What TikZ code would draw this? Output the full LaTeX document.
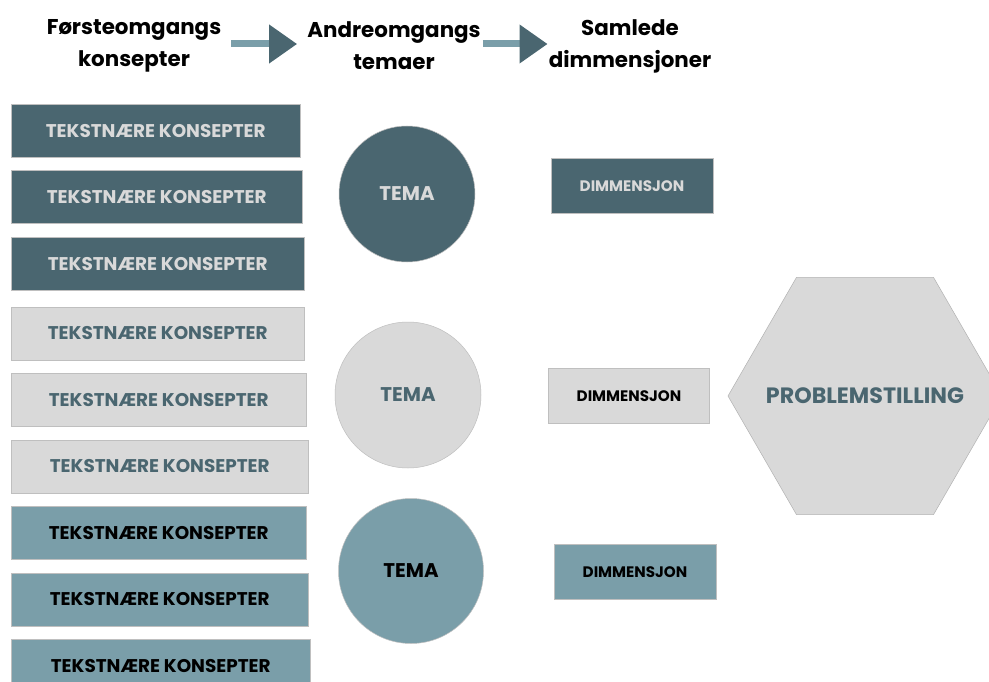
\documentclass[tikz,border=0pt]{standalone}
\usepackage{fontspec}
\setmainfont{Poppins}
\usepackage{tikz}
\usetikzlibrary{arrows.meta,positioning,shapes.geometric}
\usepackage{xcolor}
\definecolor{mork}{HTML}{4A6670}
\definecolor{middels}{HTML}{7A9EA9}
\definecolor{lys}{HTML}{D9D9D9}

\begin{document}
\begin{tikzpicture}[x=1pt, y=-1pt, node distance=13pt,
  kon/.style={draw=gray!50, line width=0.5pt, minimum height=53pt, inner sep=0pt,
    anchor=north west, font=\bfseries\fontsize{18.4}{20}\selectfont},
  morkfarge/.style={fill=mork, text=lys},
  lysfarge/.style={fill=lys, text=mork},
  midfarge/.style={fill=middels, text=black},
  tema/.style={circle, draw=gray!50, line width=0.5pt, inner sep=0pt,
    font=\bfseries\fontsize{19.8}{22}\selectfont},
  dim/.style={draw=gray!50, line width=0.5pt, minimum width=162pt, minimum height=55pt,
    inner sep=0pt, font=\bfseries\fontsize{15.2}{17}\selectfont},
  head/.style={align=center, text=black, inner sep=0pt, font=\bfseries\fontsize{21.4}{32}\selectfont},
  pil/.style={middels, line width=7pt, -{Triangle[color=mork, length=28pt, width=37pt]}}]
\useasboundingbox[fill=white] (0,0) rectangle (989,682);

% overskrifter
\node[head] (h1) at (134,46) {Førsteomgangs\\konsepter};
\node[head] (h2) at (394,46) {Andreomgangs\\temaer};
\node[head] (h3) at (630,46) {Samlede\\dimmensjoner};
\draw[pil, shorten <=10pt, shorten >=10pt] (h1.east |- 0,44) -- (h2.west |- 0,44);
\draw[pil, shorten <=2pt, shorten >=1pt] (h2.east |- 0,44) -- (h3.west |- 0,44);

% tekstnære konsepter
\node[kon, morkfarge, minimum width=289pt] (k1) at (11,104) {TEKSTNÆRE KONSEPTER};
\node[kon, morkfarge, minimum width=291pt, below=of k1.south west, anchor=north west] (k2) {TEKSTNÆRE KONSEPTER};
\node[kon, morkfarge, minimum width=293pt, below=of k2.south west, anchor=north west] (k3) {TEKSTNÆRE KONSEPTER};
\node[kon, lysfarge, minimum width=293pt, below=16pt of k3.south west, anchor=north west] (k4) {TEKSTNÆRE KONSEPTER};
\node[kon, lysfarge, minimum width=295pt, below=of k4.south west, anchor=north west] (k5) {TEKSTNÆRE KONSEPTER};
\node[kon, lysfarge, minimum width=297pt, below=of k5.south west, anchor=north west] (k6) {TEKSTNÆRE KONSEPTER};
\node[kon, midfarge, minimum width=295pt, below=of k6.south west, anchor=north west] (k7) {TEKSTNÆRE KONSEPTER};
\node[kon, midfarge, minimum width=297pt, below=of k7.south west, anchor=north west] (k8) {TEKSTNÆRE KONSEPTER};
\node[kon, midfarge, minimum width=299pt, below=of k8.south west, anchor=north west] (k9) {TEKSTNÆRE KONSEPTER};

% temaer
\node[tema, morkfarge, minimum size=136pt] (t1) at (407,194) {TEMA};
\node[tema, lysfarge, minimum size=146pt] (t2) at (408,395) {TEMA};
\node[tema, midfarge, minimum size=145pt] (t3) at (411,571) {TEMA};

% dimensjoner
\node[dim, morkfarge] (d1) at (632,186) {DIMMENSJON};
\node[dim, lysfarge, text=black, minimum width=161pt] (d2) at (629,396) {DIMMENSJON};
\node[dim, midfarge] (d3) at (635,572) {DIMMENSJON};

% problemstilling
\node[regular polygon, regular polygon sides=6, minimum size=274pt, inner sep=0pt,
  fill=lys, draw=gray!60, line width=0.5pt,
  label={[text=mork, font=\bfseries\fontsize{22.2}{24}\selectfont]center:PROBLEMSTILLING}]
  (p) at (865,396) {};
\end{tikzpicture}
\end{document}
